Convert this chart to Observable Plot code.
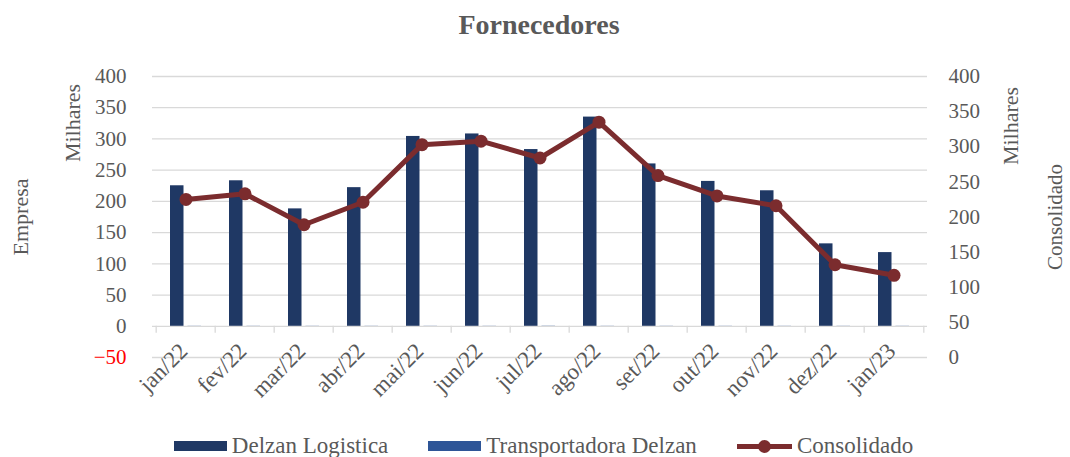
<!DOCTYPE html>
<html>
<head>
<meta charset="utf-8">
<script src="https://cdn.jsdelivr.net/npm/d3@7"></script>
<script src="https://cdn.jsdelivr.net/npm/@observablehq/plot@0.6"></script>
<style>
  html, body { margin: 0; padding: 0; background: #fff; }
  #wrap { position: relative; width: 1070px; height: 457px; overflow: hidden; font-family: "Liberation Serif", "DejaVu Serif", serif; color: #595959; }
  #title { position: absolute; top: 11px; left: 0; width: 1078px; text-align: center; font-family: "Liberation Serif", serif; font-size: 28px; line-height: 28px; font-weight: bold; }
  #chart { position: absolute; top: 50px; left: 0; }
  #legend { position: absolute; top: 431px; left: 0; width: 1087px; height: 30px; display: flex; justify-content: center; align-items: center; gap: 40px; font-family: "Liberation Serif", serif; font-size: 23px; }
  #legend span { font-family: "Liberation Serif", serif; }
  .item { display: flex; align-items: center; gap: 5px; }
  .sw { width: 53px; height: 10px; }
  .ln { position: relative; width: 55px; height: 10px; }
  .ln::before { content: ""; position: absolute; left: 0; right: 0; top: 3px; height: 5px; background: #7b2c2e; }
  .ln::after { content: ""; position: absolute; left: 21px; top: -1px; width: 13px; height: 13px; border-radius: 50%; background: #7b2c2e; }
</style>
</head>
<body>
<div id="wrap">
  <div id="title">Fornecedores</div>
  <div id="chart"></div>
  <div id="legend">
    <div class="item"><div class="sw" style="background:#1f3864"></div><span>Delzan Logistica</span></div>
    <div class="item"><div class="sw" style="background:#2e5597"></div><span>Transportadora Delzan</span></div>
    <div class="item"><div class="ln"></div><span>Consolidado</span></div>
  </div>
</div>
<script>
const months = ["jan/22","fev/22","mar/22","abr/22","mai/22","jun/22","jul/22","ago/22","set/22","out/22","nov/22","dez/22","jan/23"];
const delzanLogistica = [225, 233, 188, 222, 304, 308, 283, 335, 260, 232, 217, 132, 118];
const transportadoraDelzan = [0.4, 0.4, 0.4, 0.4, 0.4, 0.4, 0.6, 0.4, 0.4, 0.4, 0.4, 0.4, 0.4];
const consolidado = [225, 233, 189, 221, 303, 308, 284, 335, 259, 230, 216, 132, 117];
const leftTicks = [-50, 0, 50, 100, 150, 200, 250, 300, 350, 400];
const rightTicks = [0, 50, 100, 150, 200, 250, 300, 350, 400];

// right axis (0..400) maps onto the left axis extent (-50..400)
const toLeft = v => -50 + v * 450 / 400;
const fromLeft = d => Math.round((d + 50) * 400 / 450);

const data = months.map((m, i) => ({
  month: m,
  delzan: delzanLogistica[i],
  transp: transportadoraDelzan[i],
  cons: toLeft(consolidado[i])
}));

const W = 1070, H = 372, ML = 152, MR = 143, MT = 26, MB = 65;
const step = (W - ML - MR) / months.length;
const pad = 1 - 31 / step;
const lastMonth = [months[months.length - 1]];

const font = "Liberation Serif, serif";
const chart = Plot.plot({
  width: W, height: H,
  marginLeft: ML, marginRight: MR, marginTop: MT, marginBottom: MB,
  style: {fontFamily: font, fontSize: "21px", color: "#595959", background: "transparent"},
  x: {domain: months, type: "band", paddingInner: pad, paddingOuter: pad / 2, axis: null},
  y: {domain: [-50, 400], axis: null},
  marks: [
    Plot.ruleY(leftTicks, {stroke: "#d9d9d9", strokeWidth: 1.3}),
    Plot.ruleX(months, {x: d => d, y1: 0, y2: -11, dx: -step / 2, stroke: "#d9d9d9", strokeWidth: 1.3}),
    Plot.ruleX(lastMonth, {x: d => d, y1: 0, y2: -11, dx: step / 2, stroke: "#d9d9d9", strokeWidth: 1.3}),
    Plot.barY(data, {x: "month", y: "delzan", fill: "#1f3864", insetRight: 17.5}),
    Plot.barY(data, {x: "month", y: "transp", fill: "#2e5597", fillOpacity: 0.5, insetLeft: 17.5}),
    Plot.line(data, {x: "month", y: "cons", stroke: "#7b2c2e", strokeWidth: 5}),
    Plot.dot(data, {x: "month", y: "cons", r: 6.5, fill: "#7b2c2e"}),
    Plot.axisY(leftTicks, {anchor: "left", tickSize: 0, tickPadding: 26, label: null,
      fill: d => d < 0 ? "#ff0000" : "#595959"}),
    Plot.axisY(rightTicks.map(toLeft), {anchor: "right", tickSize: 0, tickPadding: 21, label: null,
      tickFormat: fromLeft}),
    Plot.text(data, {x: "month", text: "month", frameAnchor: "bottom", rotate: -45, textAnchor: "end", dx: 3, dy: -5, fill: "#595959", fontSize: 23}),
    Plot.text(["Empresa"], {frameAnchor: "left", textAnchor: "middle", lineAnchor: "middle", rotate: -90, dx: -132, dy: 0, fill: "#595959", fontSize: 22}),
    Plot.text(["Milhares"], {frameAnchor: "left", textAnchor: "middle", lineAnchor: "middle", rotate: -90, dx: -80, dy: -94, fill: "#595959", fontSize: 22}),
    Plot.text(["Milhares"], {frameAnchor: "right", textAnchor: "middle", lineAnchor: "middle", rotate: -90, dx: 83, dy: -91, fill: "#595959", fontSize: 22}),
    Plot.text(["Consolidado"], {frameAnchor: "right", textAnchor: "middle", lineAnchor: "middle", rotate: -90, dx: 128, dy: 0, fill: "#595959", fontSize: 21})
  ]
});
document.getElementById("chart").appendChild(chart);
</script>
</body>
</html>
